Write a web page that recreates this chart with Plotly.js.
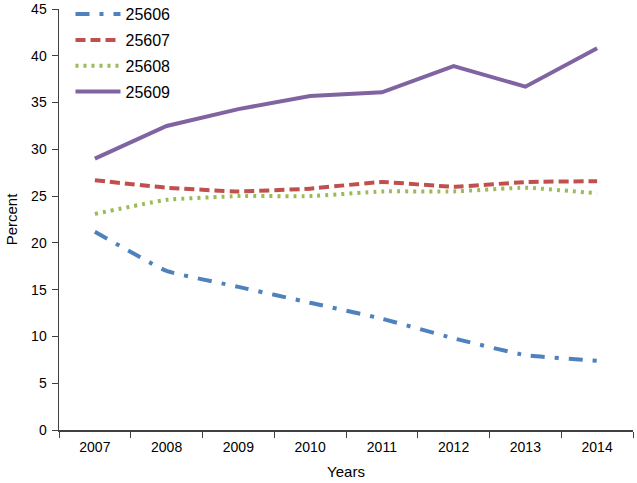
<!DOCTYPE html>
<html><head><meta charset="utf-8">
<script src="https://cdn.plot.ly/plotly-3.0.1.min.js"></script>
<style>body{margin:0;padding:0;background:#fff}#chart{width:637px;height:483px}</style>
</head><body><div id="chart"></div>
<script>
const years = ["2007","2008","2009","2010","2011","2012","2013","2014"];
const s25606 = [21.2, 17.0, 15.3, 13.6, 11.9, 9.8, 8.0, 7.4];
const s25607 = [26.7, 25.9, 25.5, 25.8, 26.5, 26.0, 26.5, 26.6];
const s25608 = [23.1, 24.6, 25.0, 25.0, 25.5, 25.5, 25.9, 25.3];
const s25609 = [29.0, 32.5, 34.3, 35.7, 36.1, 38.9, 36.7, 40.8];
const names = ["25606","25607","25608","25609"];
const series = [s25606, s25607, s25608, s25609];
const colors = ["#4F81BD","#C0504D","#9BBB59","#8064A2"];
const dashes = ["14px,10px,4px,10px","10px,5px","3px,5px","solid"];
const shapes = ["spline","spline","spline","linear"];

const traces = series.map((s,i)=>({
  x: years, y: s, name: names[i], type:"scatter", mode:"lines",
  legendgroup: "g"+i,
  line:{color:colors[i], width:4, dash:dashes[i], shape:shapes[i], smoothing:0.35}
}));

const fam = "Liberation Sans, Arial, sans-serif";
const axisFont = {family:fam, size:14, color:"#000"};
const layout = {
  width:637, height:483,
  margin:{l:59, r:4, t:9, b:53, autoexpand:false},
  paper_bgcolor:"#fff", plot_bgcolor:"#fff",
  showlegend:true,
  legend:{x:0.02, y:1.028, xanchor:"left", yanchor:"top", bgcolor:"rgba(0,0,0,0)",
    font:{family:fam, size:16, color:"#000"},
    traceorder:"grouped", tracegroupgap:2, itemwidth:45},
  xaxis:{type:"category", range:[-0.5,7.5], tickson:"boundaries", ticks:"outside", ticklen:6,
    tickcolor:"#404040", showline:true, linecolor:"#404040", linewidth:1.5, showgrid:false,
    zeroline:false, tickfont:axisFont, ticklabelstandoff:4,
    title:{text:"Years", font:{family:fam, size:15, color:"#000"}, standoff:12}},
  yaxis:{range:[0,45], dtick:5, ticks:"outside", ticklen:6, tickcolor:"#404040",
    showline:true, linecolor:"#404040", linewidth:1.5, showgrid:false, zeroline:false,
    tickfont:axisFont, ticklabelstandoff:2,
    title:{text:"Percent", font:{family:fam, size:15, color:"#000"}, standoff:10}}
};
Plotly.newPlot("chart", traces, layout, {displayModeBar:false, staticPlot:true});
</script></body></html>
